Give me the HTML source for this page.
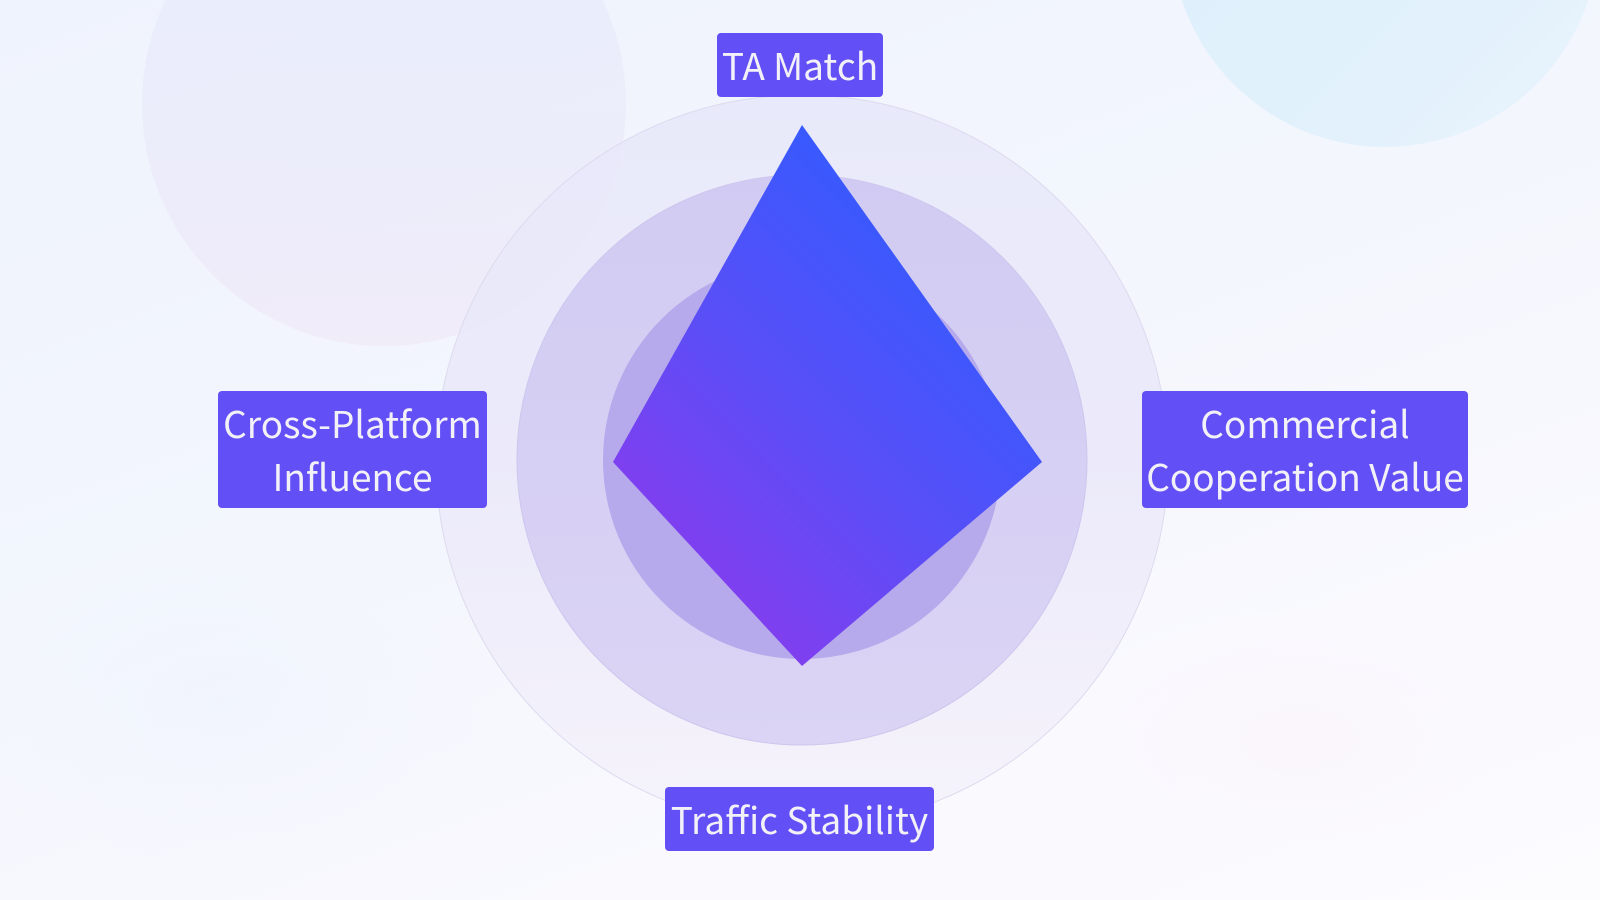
<!DOCTYPE html>
<html>
<head>
<meta charset="utf-8">
<style>
  html, body { margin: 0; padding: 0; width: 1600px; height: 900px; overflow: hidden; }
  body { position: relative;
         background: linear-gradient(160deg, #eff3fd 0%, #f3f6fd 45%, #f9f9fe 75%, #fcfbfe 100%);
         font-family: "Liberation Sans", "Noto Sans CJK SC", sans-serif; }
  svg.bg { position: absolute; left: 0; top: 0; display: block; }
  .box { position: absolute; background: #634ff6; border-radius: 4px; color: #f3f1f8;
         font-family: "Noto Sans CJK SC", "Liberation Sans", sans-serif; font-size: 37px;
         line-height: 53px; text-align: center; white-space: nowrap; box-sizing: border-box;
         padding-top: 5px; overflow: hidden; }
</style>
</head>
<body>
<svg class="bg" width="1600" height="900" viewBox="0 0 1600 900" xmlns="http://www.w3.org/2000/svg">
  <defs>
    <linearGradient id="tl" x1="0" y1="0" x2="0" y2="1">
      <stop offset="0" stop-color="#e2e9fc" stop-opacity="0.55"/>
      <stop offset="0.6" stop-color="#e6e4f8" stop-opacity="0.45"/>
      <stop offset="1" stop-color="#efe2f4" stop-opacity="0.5"/>
    </linearGradient>
    <linearGradient id="tr" x1="0" y1="0" x2="1" y2="1">
      <stop offset="0" stop-color="#dcf0fc"/>
      <stop offset="0.7" stop-color="#e2f1fc"/>
      <stop offset="1" stop-color="#ebf3fd"/>
    </linearGradient>
    <radialGradient id="bl" cx="0.5" cy="0.5" r="0.5">
      <stop offset="0" stop-color="#eaf0fd" stop-opacity="0.35"/>
      <stop offset="1" stop-color="#f3f6fd" stop-opacity="0"/>
    </radialGradient>
    <radialGradient id="br" cx="0.5" cy="0.5" r="0.5">
      <stop offset="0" stop-color="#fbf3fa" stop-opacity="0.6"/>
      <stop offset="1" stop-color="#fbf9fe" stop-opacity="0"/>
    </radialGradient>
    <linearGradient id="outer" x1="0" y1="0" x2="0" y2="1">
      <stop offset="0" stop-color="#e7e8fa"/>
      <stop offset="0.5" stop-color="#ebe9f9"/>
      <stop offset="1" stop-color="#f5f2fa"/>
    </linearGradient>
    <linearGradient id="mid" x1="0" y1="0" x2="0" y2="1">
      <stop offset="0" stop-color="#d1cbf3"/>
      <stop offset="1" stop-color="#dbd4f4"/>
    </linearGradient>
    <linearGradient id="dia" gradientUnits="userSpaceOnUse" x1="990" y1="270" x2="650" y2="610">
      <stop offset="0" stop-color="#335bff"/>
      <stop offset="0.5" stop-color="#5b4ef7"/>
      <stop offset="1" stop-color="#8d39ec"/>
    </linearGradient>
  </defs>
  <ellipse cx="220" cy="700" rx="300" ry="190" fill="url(#bl)"/>
  <ellipse cx="1300" cy="740" rx="280" ry="150" fill="url(#br)"/>
  <circle cx="384" cy="104" r="242" fill="url(#tl)"/>
  <circle cx="1385" cy="-67" r="214" fill="url(#tr)"/>
  <circle cx="802" cy="461" r="366" fill="url(#outer)" fill-opacity="0.9" stroke="#dcdaee" stroke-width="1"/>
  <circle cx="802" cy="460" r="285" fill="url(#mid)" stroke="#cdc6ee" stroke-width="1"/>
  <circle cx="802" cy="460" r="199" fill="#b6a9ec"/>
  <polygon points="802,125 1042,462 802,666 613,462" fill="url(#dia)"/>
</svg>

<div class="box" style="left:717px; top:33px; width:166px; height:64px;">TA Match</div>
<div class="box" style="left:218px; top:391px; width:269px; height:117px;">Cross-Platform<br>Influence</div>
<div class="box" style="left:1142px; top:391px; width:326px; height:117px;">Commercial<br>Cooperation Value</div>
<div class="box" style="left:665px; top:787px; width:269px; height:64px;">Traffic Stability</div>
</body>
</html>
